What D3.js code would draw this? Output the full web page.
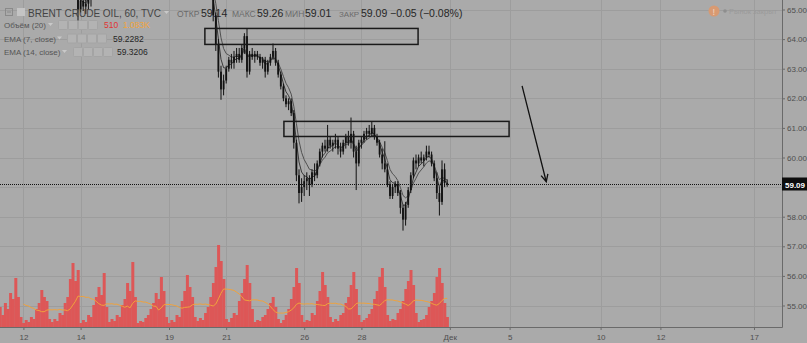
<!DOCTYPE html>
<html>
<head>
<meta charset="utf-8">
<script src="https://cdn.jsdelivr.net/npm/d3@7"></script>
<style>
    html, body { margin: 0; padding: 0; background: #aaaaaa; }
    svg { display: block; }
    text { font-family: "Liberation Sans", Arial, sans-serif; }
</style>
</head>
<body>
<div id="chart"></div>
<script>
// date labels on the time axis and the bar (2h) where each one starts
const tickLabels = ['12', '14', '19', '21', '26', '28', 'Дек', '5', '10', '12', '17'];
const tickBars = [9, 31, 65, 87, 117, 139, 173, 196, 231, 254, 290];
const priceTicks = [55, 56, 57, 58, 59, 60, 61, 62, 63, 64, 65];
const lastPrice = 59.09;

// volume per bar (hundreds of lots), bar 0 .. 172
const volume = [
    20, 12, 24, 18, 34, 28, 49, 30, 10,
    4, 7, 5, 10, 8, 18, 24, 37, 30, 26, 8,
    5, 8, 6, 14, 12, 24, 30, 48, 64, 46, 57,
    4, 7, 5, 12, 10, 22, 30, 40, 32, 54, 20,
    5, 8, 6, 12, 10, 22, 28, 44, 36, 65, 30,
    4, 6, 5, 9, 12, 18, 24, 34, 28, 50, 36, 10,
    4, 7, 5, 12, 10, 26, 36, 52, 40, 30, 10,
    6, 9, 7, 14, 20, 30, 44, 60, 82, 66, 48,
    8, 5, 9, 14, 12, 26, 34, 48, 62, 44, 18,
    5, 7, 6, 10, 12, 18, 24, 30, 20, 8,
    4, 7, 12, 18, 28, 40, 59, 44, 12,
    5, 7, 6, 14, 12, 26, 36, 55, 42, 30, 10,
    5, 8, 6, 12, 14, 24, 30, 42, 55, 38, 12,
    5, 7, 9, 13, 18, 28, 36, 50, 59, 40, 12,
    6, 8, 7, 14, 18, 26, 38, 46, 57, 42, 14,
    5, 7, 8, 12, 20, 26, 34, 50, 59, 44, 24, 10
];

// candles [open, high, low, close], first one is bar 28
const candleStart = 28;
const candles = [
    [66.2, 66.4, 65.6, 65.7], [65.7, 65.8, 65.35, 65.4], [65.4, 65.5, 64.62, 65.0], [65.0, 65.4, 64.9, 65.3],
    [65.3, 65.5, 64.95, 65.1], [65.1, 65.4, 64.85, 65.2], [65.2, 65.6, 65.0, 65.5], [65.5, 65.8, 65.1, 65.6],
    [65.6, 66.0, 65.4, 65.9], [65.9, 66.3, 65.7, 66.1], [66.1, 66.4, 65.8, 66.0], [66.0, 66.5, 65.8, 66.3],
    [66.3, 66.5, 65.9, 66.1], [66.1, 66.4, 65.9, 66.2], [66.2, 66.3, 66.0, 66.1], [66.1, 66.3, 65.9, 66.2],
    [66.2, 66.5, 66.1, 66.4], [66.4, 66.6, 66.2, 66.3], [66.3, 66.7, 66.2, 66.6], [66.6, 67.0, 66.4, 66.9],
    [66.9, 67.2, 66.5, 66.6], [66.6, 66.9, 66.2, 66.4], [66.4, 66.8, 66.1, 66.7], [66.7, 67.0, 66.3, 66.5],
    [66.5, 66.8, 66.3, 66.6], [66.6, 66.7, 66.4, 66.5], [66.5, 66.7, 66.3, 66.6], [66.6, 66.9, 66.5, 66.8],
    [66.8, 67.0, 66.6, 66.7], [66.7, 67.1, 66.6, 67.0], [67.0, 67.4, 66.8, 67.2], [67.2, 67.5, 66.9, 67.0],
    [67.0, 67.3, 66.6, 66.8], [66.8, 67.1, 66.5, 66.9], [66.9, 67.2, 66.6, 66.7], [66.7, 66.9, 66.5, 66.8],
    [66.8, 66.9, 66.6, 66.7], [66.7, 66.9, 66.5, 66.8], [66.8, 67.0, 66.6, 66.9], [66.9, 67.2, 66.7, 67.1],
    [67.1, 67.4, 66.9, 67.2], [67.2, 67.5, 66.8, 66.9], [66.9, 67.1, 66.4, 66.6], [66.6, 66.9, 66.2, 66.7],
    [66.7, 67.0, 66.3, 66.5], [66.5, 66.8, 66.3, 66.7], [66.7, 66.9, 66.5, 66.8], [66.8, 66.9, 66.6, 66.8],
    // Nov 20
    [66.8, 66.9, 66.5, 66.6], [66.6, 66.7, 66.2, 66.3], [66.3, 66.5, 66.0, 66.1], [66.1, 66.2, 65.7, 65.8],
    [65.8, 66.0, 65.5, 65.6], [65.6, 65.8, 65.35, 65.4], [65.4, 65.5, 64.6, 64.8], [64.8, 64.9, 63.6, 63.8],
    [63.8, 64.0, 62.7, 62.9], [62.9, 63.1, 61.95, 62.3], [62.3, 62.8, 62.1, 62.6],
    // Nov 21
    [62.6, 63.1, 62.5, 63.0], [63.0, 63.4, 62.9, 63.3], [63.3, 63.5, 63.0, 63.2], [63.2, 63.6, 63.0, 63.4],
    [63.4, 63.7, 63.2, 63.5], [63.5, 63.7, 63.2, 63.3], [63.3, 63.8, 63.2, 63.7], [63.7, 64.2, 63.5, 64.1],
    [64.1, 64.35, 62.7, 62.9], [62.9, 63.6, 62.8, 63.5], [63.5, 63.7, 63.3, 63.4],
    // Nov 22
    [63.4, 63.6, 63.2, 63.5], [63.5, 63.6, 63.3, 63.4], [63.4, 63.5, 63.1, 63.2], [63.2, 63.4, 63.0, 63.3],
    [63.3, 63.4, 62.7, 62.9], [62.9, 63.3, 62.8, 63.2], [63.2, 63.5, 63.1, 63.4], [63.4, 63.85, 63.3, 63.6],
    [63.6, 63.7, 63.1, 63.2], [63.2, 63.3, 62.7, 62.8],
    // Nov 23
    [62.8, 62.9, 62.3, 62.4], [62.4, 62.5, 61.9, 62.0], [62.0, 62.1, 61.7, 61.8], [61.8, 62.0, 61.6, 61.9],
    [61.9, 62.0, 61.4, 61.5], [61.5, 61.6, 60.3, 60.5], [60.5, 60.6, 59.2, 59.4], [59.4, 59.6, 58.45, 58.8],
    [58.8, 59.3, 58.5, 59.0],
    // Nov 26
    [59.0, 59.4, 58.7, 59.2], [59.2, 59.5, 58.9, 59.3], [59.3, 59.4, 58.7, 59.1], [59.1, 59.6, 59.0, 59.5],
    [59.5, 59.8, 59.2, 59.4], [59.4, 59.9, 59.3, 59.8], [59.8, 60.3, 59.7, 60.2], [60.2, 60.5, 60.0, 60.4],
    [60.4, 60.6, 60.2, 60.3], [60.3, 61.1, 60.2, 60.6], [60.6, 60.7, 60.3, 60.4],
    // Nov 27
    [60.4, 60.6, 60.2, 60.5], [60.5, 60.8, 60.3, 60.6], [60.6, 60.7, 60.1, 60.3], [60.3, 60.5, 60.0, 60.2],
    [60.2, 60.6, 60.1, 60.5], [60.5, 60.8, 60.3, 60.7], [60.7, 60.9, 60.4, 60.5], [60.5, 61.35, 60.3, 60.8],
    [60.8, 60.9, 60.0, 60.2], [60.2, 60.4, 58.9, 59.8], [59.8, 60.6, 59.7, 60.5],
    // Nov 28
    [60.5, 60.7, 60.3, 60.6], [60.6, 60.9, 60.5, 60.8], [60.8, 61.0, 60.6, 60.9], [60.9, 61.1, 60.7, 60.8],
    [60.8, 61.2, 60.7, 61.0], [61.0, 61.1, 60.6, 60.7], [60.7, 60.8, 60.4, 60.5], [60.5, 60.6, 60.0, 60.1],
    [60.1, 60.3, 59.6, 59.8], [59.8, 60.55, 59.5, 59.6], [59.6, 59.8, 59.0, 59.1],
    // Nov 29
    [59.1, 59.2, 58.6, 58.7], [58.7, 59.1, 58.6, 59.0], [59.0, 59.2, 58.8, 59.1], [59.1, 59.2, 58.7, 58.8],
    [58.8, 58.9, 58.1, 58.3], [58.3, 58.4, 57.53, 57.9], [57.9, 58.5, 57.7, 58.4], [58.4, 59.0, 58.3, 58.9],
    [58.9, 59.5, 58.8, 59.4], [59.4, 60.0, 59.3, 59.9], [59.9, 60.1, 59.6, 59.8],
    // Nov 30
    [59.8, 60.1, 59.7, 60.0], [60.0, 60.2, 59.8, 59.9], [59.9, 60.1, 59.7, 60.0], [60.0, 60.4, 59.9, 60.2],
    [60.2, 60.4, 60.0, 60.1], [60.1, 60.2, 59.7, 59.8], [59.8, 59.9, 59.2, 59.3], [59.3, 59.5, 58.6, 58.8],
    [58.8, 59.0, 58.04, 58.5], [58.5, 59.9, 58.4, 59.6], [59.6, 59.8, 59.0, 59.14], [59.14, 59.26, 59.01, 59.09]
];

// drawn rectangles [barFrom, barTo, priceTop, priceBottom] and the arrow [bar1, price1, bar2, price2]
const boxes = [[78.8, 160.8, 64.36, 63.82], [109.2, 195.8, 61.22, 60.71]];
const arrowLine = [200.8, 62.42, 210.1, 59.18];

drawChart();

function drawChart() {
    const width = 807;
    const height = 343;
    const plotRight = 782;
    const plotBottom = 327;

    const svg = d3.select('#chart')
        .append('svg')
        .attr('width', width)
        .attr('height', height);

    svg.append('rect')
        .attr('width', width)
        .attr('height', height)
        .attr('fill', '#aaaaaa');

    const x = d3.scaleLinear().domain([0, 300]).range([0, 780]);
    const y = d3.scaleLinear().domain([55, 65]).range([305.5, 9.5]);
    const yVol = d3.scaleLinear().domain([0, 100]).range([plotBottom, plotBottom - 100]);
    const step = x(1) - x(0);

    svg.append('clipPath')
        .attr('id', 'plot')
        .append('rect')
        .attr('width', plotRight)
        .attr('height', plotBottom);

    // grid
    const grid = svg.append('g').attr('stroke', '#9d9d9d').attr('stroke-width', 1);
    grid.selectAll('.h')
        .data(priceTicks)
        .enter()
        .append('line')
        .attr('x1', 0)
        .attr('x2', plotRight)
        .attr('y1', d => Math.round(y(d)) + 0.5)
        .attr('y2', d => Math.round(y(d)) + 0.5);
    grid.selectAll('.v')
        .data(tickBars)
        .enter()
        .append('line')
        .attr('x1', d => Math.round(x(d)) + 0.5)
        .attr('x2', d => Math.round(x(d)) + 0.5)
        .attr('y1', 0)
        .attr('y2', plotBottom);

    const plot = svg.append('g').attr('clip-path', 'url(#plot)');

    // volume
    plot.append('g')
        .selectAll('rect')
        .data(volume)
        .enter()
        .append('rect')
        .attr('x', (d, i) => x(i) - step / 2)
        .attr('width', step + 0.4)
        .attr('y', d => yVol(d))
        .attr('height', d => yVol(0) - yVol(d))
        .attr('fill', '#dd5757');

    const volMa = volume.map((d, i) => i < 9 ? null : d3.mean(volume.slice(i - 9, i + 1)));
    plot.append('path')
        .datum(volMa)
        .attr('fill', 'none')
        .attr('stroke', '#f0a23c')
        .attr('stroke-width', 1)
        .attr('d', d3.line()
            .defined(d => d !== null)
            .x((d, i) => x(i))
            .y(d => yVol(d)));

    // ema lines
    const closes = candles.map(c => c[3]);
    [[4, '#3a3a3a'], [7, '#505050']].forEach(function (e) {
        const k = 2 / (e[0] + 1);
        let prev = closes[0];
        const ema = closes.map(function (c) {
            prev = prev + k * (c - prev);
            return prev;
        });
        plot.append('path')
            .datum(ema)
            .attr('fill', 'none')
            .attr('stroke', e[1])
            .attr('stroke-width', 1)
            .attr('d', d3.line()
                .x((d, i) => x(i + candleStart))
                .y(d => y(d)));
    });

    // candles
    const candle = plot.append('g')
        .selectAll('g')
        .data(candles)
        .enter()
        .append('g');
    candle.append('line')
        .attr('x1', (d, i) => x(i + candleStart))
        .attr('x2', (d, i) => x(i + candleStart))
        .attr('y1', d => y(d[1]))
        .attr('y2', d => y(d[2]))
        .attr('stroke', '#111')
        .attr('stroke-width', 1);
    candle.append('rect')
        .attr('x', (d, i) => x(i + candleStart) - 0.9)
        .attr('width', 1.8)
        .attr('y', d => y(Math.max(d[0], d[3])))
        .attr('height', d => Math.max(1, Math.abs(y(d[0]) - y(d[3]))))
        .attr('fill', '#111');

    // drawings
    plot.append('g')
        .selectAll('rect')
        .data(boxes)
        .enter()
        .append('rect')
        .attr('x', d => x(d[0]))
        .attr('y', d => y(d[2]))
        .attr('width', d => x(d[1]) - x(d[0]))
        .attr('height', d => y(d[3]) - y(d[2]))
        .attr('fill', 'none')
        .attr('stroke', '#1a1a1a')
        .attr('stroke-width', 1.5);

    const ax1 = x(arrowLine[0]), ay1 = y(arrowLine[1]);
    const ax2 = x(arrowLine[2]), ay2 = y(arrowLine[3]);
    const ang = Math.atan2(ay2 - ay1, ax2 - ax1);
    plot.append('path')
        .attr('d', 'M' + ax1 + ',' + ay1 + 'L' + ax2 + ',' + ay2 +
            'M' + (ax2 - 8 * Math.cos(ang - 0.45)) + ',' + (ay2 - 8 * Math.sin(ang - 0.45)) +
            'L' + ax2 + ',' + ay2 +
            'L' + (ax2 - 8 * Math.cos(ang + 0.45)) + ',' + (ay2 - 8 * Math.sin(ang + 0.45)))
        .attr('fill', 'none')
        .attr('stroke', '#111')
        .attr('stroke-width', 1.3);

    // last price line
    const ly = Math.round(y(lastPrice)) + 0.5;
    svg.append('line')
        .attr('x1', 0)
        .attr('x2', plotRight)
        .attr('y1', ly)
        .attr('y2', ly)
        .attr('stroke', '#111')
        .attr('stroke-dasharray', '1,1');

    // axes (the 59.00 label sits under the last price badge, so it is left out)
    const yAxis = svg.append('g')
        .attr('transform', 'translate(' + plotRight + ',0)')
        .call(d3.axisRight(y).tickValues(priceTicks.filter(d => Math.abs(d - lastPrice) > 0.4))
            .tickSize(3).tickPadding(2).tickFormat(d3.format('.2f')));
    const xAxis = svg.append('g')
        .attr('transform', 'translate(0,' + plotBottom + ')')
        .call(d3.axisBottom(x).tickValues(tickBars).tickSize(3).tickPadding(4)
            .tickFormat((d, i) => tickLabels[i]));
    [yAxis, xAxis].forEach(function (a) {
        a.select('.domain').remove();
        a.selectAll('line').attr('stroke', '#6a6a6a');
        a.selectAll('text')
            .attr('fill', '#4e4e4e')
            .style('font-size', '8px')
            .style('font-family', '"Liberation Sans", Arial, sans-serif');
    });

    svg.append('path')
        .attr('d', 'M0,' + (plotBottom + 0.5) + 'H' + (plotRight + 0.5) + 'V0')
        .attr('fill', 'none')
        .attr('stroke', '#6a6a6a');

    svg.append('rect')
        .attr('x', plotRight)
        .attr('y', ly - 7)
        .attr('width', width - plotRight)
        .attr('height', 13)
        .attr('fill', '#0d0d0d');
    svg.append('text')
        .attr('x', plotRight + 3)
        .attr('y', ly + 3)
        .attr('fill', '#ffffff')
        .style('font-size', '8px')
        .style('font-weight', 'bold')
        .text(lastPrice.toFixed(2));

    drawLegend(svg);
}

function label(svg, x, y, text, size, fill) {
    return svg.append('text')
        .attr('x', x)
        .attr('y', y)
        .attr('fill', fill)
        .style('font-size', size + 'px')
        .text(text);
}

function caret(svg, x, y) {
    svg.append('path')
        .attr('d', 'M' + x + ',' + y + 'h5l-2.5,3z')
        .attr('fill', '#c9c9c9');
}

function buttons(svg, x, y) {
    for (let i = 0; i < 4; i++) {
        svg.append('rect')
            .attr('x', x + i * 10)
            .attr('y', y)
            .attr('width', 9)
            .attr('height', 9)
            .attr('rx', 1)
            .attr('fill', '#b3b3b3')
            .attr('stroke', '#a4a4a4');
    }
}

function drawLegend(svg) {
    // title row
    svg.append('rect').attr('x', 5.5).attr('y', 8.5).attr('width', 7).attr('height', 7)
        .attr('fill', 'none').attr('stroke', '#8a8a8a');
    svg.append('path').attr('d', 'M7,12h4').attr('stroke', '#8a8a8a');
    svg.append('rect').attr('x', 17).attr('y', 8).attr('width', 8).attr('height', 8)
        .attr('fill', '#c4c4c4');
    label(svg, 28, 17, 'BRENT CRUDE OIL, 60, TVC', 10, '#444444');
    caret(svg, 164, 11);
    label(svg, 177, 17, 'ОТКР', 8.5, '#6a6a6a');
    label(svg, 201, 17, '59.14', 10.5, '#262626');
    label(svg, 232, 17, 'МАКС', 8.5, '#6a6a6a');
    label(svg, 257, 17, '59.26', 10.5, '#262626');
    label(svg, 285, 17, 'МИН', 8.5, '#6a6a6a');
    label(svg, 305, 17, '59.01', 10.5, '#262626');
    label(svg, 339, 17, 'ЗАКР', 8, '#6a6a6a');
    label(svg, 361, 17, '59.09', 10.5, '#262626');
    label(svg, 390, 17, '−0.05 (−0.08%)', 10.5, '#262626');

    // indicator rows
    label(svg, 4, 28, 'Объём (20)', 8, '#555555');
    caret(svg, 48, 23);
    buttons(svg, 58.5, 20.5);
    label(svg, 104, 28, '510', 8.5, '#e03535');
    label(svg, 123, 28, '1.083K', 8.5, '#f2a53a');

    label(svg, 4, 41.5, 'EMA (7, close)', 8, '#555555');
    caret(svg, 57, 36.5);
    buttons(svg, 67.5, 34);
    label(svg, 113, 41.5, '59.2282', 8.5, '#262626');

    label(svg, 4, 55, 'EMA (14, close)', 8, '#555555');
    caret(svg, 62, 50);
    buttons(svg, 73.5, 47.5);
    label(svg, 117, 55, '59.3206', 8.5, '#262626');

    // market closed badge
    svg.append('circle').attr('cx', 714).attr('cy', 11).attr('r', 5.5).attr('fill', '#d89a72');
    label(svg, 712.5, 14.5, '!', 9, '#f3d6c2');
    svg.append('circle').attr('cx', 725).attr('cy', 11).attr('r', 1.8).attr('fill', '#8e8e8e');
    label(svg, 729, 14, 'Рынок закрыт', 7.5, '#9a9a9a');
}
</script>
</body>
</html>
